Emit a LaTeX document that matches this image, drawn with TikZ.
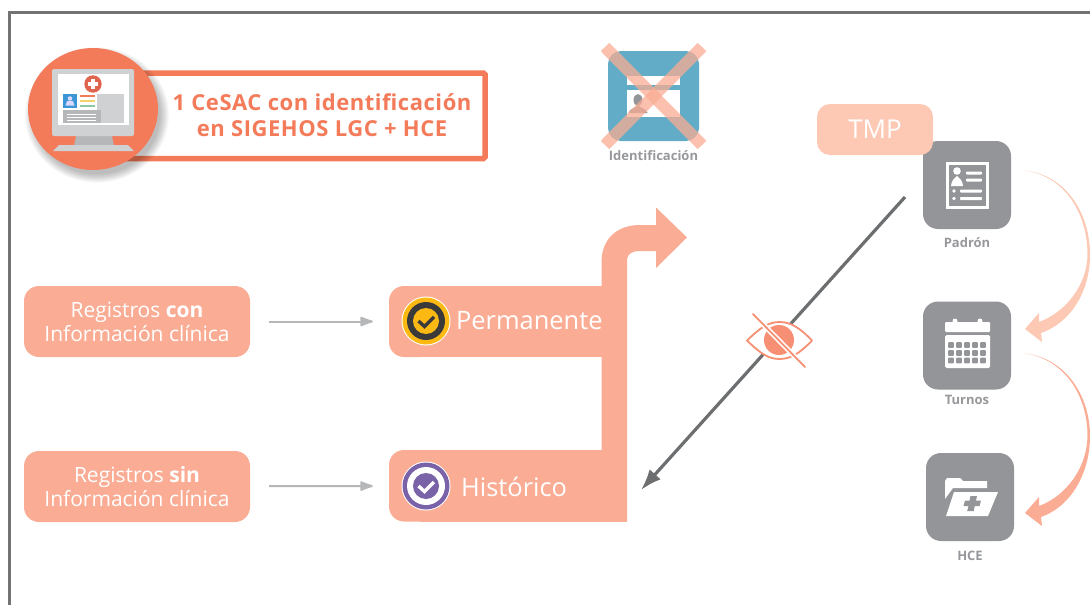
\documentclass[tikz,border=0pt]{standalone}
\usepackage{fontspec}
\setmainfont{Open Sans}
\newfontfamily\hdfont[LetterSpace=2.5]{Open Sans}
\usetikzlibrary{arrows.meta}
\definecolor{salmon}{HTML}{FAAD94}
\definecolor{coral}{HTML}{F47B5A}
\definecolor{tilegray}{HTML}{939598}
\definecolor{lblgray}{HTML}{97989B}
\definecolor{linegray}{HTML}{6D6E70}
\definecolor{arrowgray}{HTML}{B5B7B9}
\definecolor{paleorange}{HTML}{FDC8B4}
\definecolor{moncol}{HTML}{CFD1D3}
\definecolor{idblue}{HTML}{62ACC7}
\definecolor{badgeyellow}{HTML}{FDB913}
\definecolor{badgedark}{HTML}{3A3A3A}
\definecolor{badgeviolet}{HTML}{7A62A8}
\definecolor{userblue}{HTML}{3C96D6}
\definecolor{lineyellow}{HTML}{F3D36B}
\definecolor{linegreen}{HTML}{8CC9A1}
\definecolor{plusred}{HTML}{E0654F}
\tikzset{
  regbox/.style={fill=salmon,rounded corners=15pt,minimum width=226pt,minimum height=71pt,inner sep=0pt,align=center,text=white,font=\fontsize{21}{24}\selectfont},
  tile/.style={fill=tilegray,rounded corners=15pt,minimum width=88pt,minimum height=88pt,inner sep=0pt},
  tilelabel/.style={text=lblgray,font=\fontsize{13}{15}\selectfont\bfseries,inner sep=0pt},
  blocklabel/.style={text=white,font=\fontsize{25.4}{28}\selectfont,inner sep=0pt},
  thinarrow/.style={draw=arrowgray,line width=2pt,-{Latex[length=16pt,width=11pt,round=false]}},
}
\begin{document}
\begin{tikzpicture}[x=1pt,y=-1pt,line join=miter]
\useasboundingbox (0,0) rectangle (1090,605);
\fill[white] (0,0) rectangle (1090,605);
% frame
\draw[line width=2.6pt,draw=black!55] (9.5,605) -- (9.5,12.5) -- (1090,12.5);

% header box
\draw[coral,line width=5.5pt,rounded corners=1.5pt] (120,73) -- (485,73) -- (485,158.5) -- (120,158.5) -- cycle;
\foreach \r in {72,71,70,69,68,67,66,65,64,63}
  \fill[black,opacity=.028] (97,115) ellipse ({\r pt} and {\r*.94 pt});
\fill[coral] (93,109) ellipse (65pt and 61pt);
% monitor
\fill[arrowgray] (76,136) -- (112,136) -- (114,146) -- (74,146) -- cycle;
\fill[moncol] (53,151) -- (59,145) -- (128,145) -- (134,151) -- cycle;
\fill[moncol,rounded corners=2pt] (52,69) rectangle (134,136);
\fill[white] (58,74) rectangle (129,125);
\fill[plusred] (93,84) circle (8.7pt);
\fill[white] (90.8,79) rectangle (95.2,89);
\fill[white] (88,81.8) rectangle (98,86.2);
\fill[moncol] (97,94) rectangle (124,123);
\fill[userblue] (63,94) rectangle (77,108);
\fill[white!85!blue] (70,98.5) circle (2.3pt);
\fill[white!85!blue] (65.5,105.5) -- (67,101) -- (73,101) -- (74.5,105.5) -- cycle;
\fill[coral] (80,95) rectangle (95,96.5);
\fill[lineyellow] (80,100) rectangle (95,101.5);
\fill[linegreen] (80,105) rectangle (95,106.5);
\fill[arrowgray] (63,110) rectangle (101,123);
\foreach \y in {113.5,116.5,119.5} \fill[white] (67,\y) rectangle (96,\y+1);
\node[inner sep=0pt,align=center,text=coral,font=\fontsize{22}{26}\selectfont\hdfont\bfseries] (hdr) at (322,115) {1 CeSAC con identificación\\en SIGEHOS LGC + HCE};

% identificacion
\node[fill=idblue,rounded corners=13pt,minimum width=91pt,minimum height=90pt,inner sep=0pt] (idt) at (653.5,96) {};
\fill[white] (627,76) rectangle (680,85);
\fill[white] (627,90) rectangle (680,117);
\fill[tilegray] (638,100) ellipse (4.5pt and 6pt);
\fill[tilegray] (628.5,113) .. controls (630,108) and (635,109) .. (638,105) .. controls (641,109) and (646,108) .. (647.5,113) -- cycle;
\draw[salmon,opacity=.75,line width=12pt] (605,47) -- (702,145);
\draw[salmon,opacity=.75,line width=12pt] (702,47) -- (605,145);
\node[tilelabel,anchor=north] (idl) at (653.5,150) {Identificación};

% big block
\fill[salmon,rounded corners=15pt] (420,286) -- (389,286) -- (389,357) -- (420,357);
\fill[salmon] (420,286) rectangle (627,357);
\fill[salmon,rounded corners=15pt] (420,450) -- (389,450) -- (389,521.5) -- (420,521.5);
\fill[salmon] (420,450) rectangle (627,521.5);
\fill[salmon] (601.5,290) -- (601.5,262) .. controls (601.5,240) and (616,225) .. (640,225) -- (656,225) -- (656,207.5) -- (687,237.5) -- (656,268) -- (656,251) -- (640,251) .. controls (632,251) and (627,254) .. (627,260) -- (627,521) -- (601.5,521) -- cycle;
\node[minimum width=238pt,minimum height=71pt,inner sep=0pt] (perm) at (508,321.5) {};
\node[minimum width=238pt,minimum height=71pt,inner sep=0pt] (hist) at (508,486) {};
\node[blocklabel,anchor=west] (ptxt) at (456,320.5) {Permanente};
\node[blocklabel,anchor=west] (htxt) at (461,487) {Histórico};

% badges
\fill[white] (426,321) circle (24.5pt);
\fill[badgeyellow] (426,321) circle (23.5pt);
\fill[badgedark] (426,321) circle (19pt);
\fill[badgeyellow] (426,321) circle (13pt);
\draw[badgedark,line width=3.4pt] (418.5,321) -- (424.5,326.5) -- (434,317);
\fill[white] (426,486) circle (24.5pt);
\fill[badgeviolet] (426,486) circle (23.5pt);
\fill[white] (426,486) circle (19pt);
\fill[badgeviolet] (426,486) circle (13pt);
\draw[white,line width=3.4pt] (418.5,486) -- (424.5,491.5) -- (434,482);

% registros
\node[regbox] (rcon) at (137,321.5) {Registros \textbf{con}\\Información clínica};
\node[regbox] (rsin) at (137,486.5) {Registros \textbf{sin}\\Información clínica};
\draw[thinarrow,shorten <=19pt,shorten >=16pt] (rcon) -- (perm.west);
\draw[thinarrow,shorten <=19pt,shorten >=16pt] (rsin) -- (hist.west);

% tiles
\node[tile] (pad) at (967,185) {};
\node[tile] (tur) at (967,345.5) {};
\node[tile] (hce) at (970,497) {};
\node[fill=paleorange,rounded corners=13pt,minimum width=116pt,minimum height=51pt,inner sep=0pt,text=white,font=\fontsize{26}{28}\selectfont] (tmp) at (875,129.5) {TMP};
\node[tilelabel] (padl) at (967,243) {Padrón};
\node[tilelabel] (turl) at (967,400) {Turnos};
\node[tilelabel] (hcel) at (970,556) {HCE};

% padron icon
\fill[white] (946,162) rectangle (989,209);
\fill[tilegray] (949,165) rectangle (986,206);
\fill[white] (957,171) circle (3.8pt);
\fill[white] (951,186) .. controls (952,179) and (955,178) .. (957,176) .. controls (959,178) and (962,179) .. (963,186) -- cycle;
\foreach \y in {173,180} \fill[white,rounded corners=.8pt] (966,\y-1.5) rectangle (982,\y+1.5);
\foreach \y in {191,198.5} {\fill[white] (954,\y) circle (1.8pt); \fill[white,rounded corners=.8pt] (960,\y-1.5) rectangle (982,\y+1.5);}

% calendar icon
\fill[white,rounded corners=1pt] (945,322) rectangle (990,332);
\fill[white] (955,321) circle (2.5pt);
\fill[white] (980,321) circle (2.5pt);
\fill[white,rounded corners=1.5pt] (945,335) rectangle (990,368);
\foreach \x in {951,959,967,975,983} \foreach \y in {345,353,360.5}
  \fill[tilegray,rounded corners=.8pt] (\x-2.8,\y-2.8) rectangle (\x+2.8,\y+2.8);

% folder icon
\fill[white] (945,499) -- (945,481) -- (947,478) -- (960,478) -- (963,481) -- (987,481) -- (987,488) -- (953,488) -- cycle;
\fill[white] (946,516) -- (988,516) -- (998,492) -- (954,492) -- cycle;
\fill[tilegray] (970.5,496) -- (977,496) -- (976,500.5) -- (981,500.5) -- (979.5,506) -- (974.7,506) -- (973.7,511) -- (967.2,511) -- (968.5,506) -- (963.5,506) -- (965,500.5) -- (969.5,500.5) -- cycle;

% curved arrows
\coordinate (a1s) at (1025,170.5);
\coordinate (a1t) at (1025,329);
\coordinate (a2s) at (1025,353.5);
\coordinate (a2t) at (1025,513);
\fill[paleorange] (a1s) .. controls (1065,175) and (1090,212) .. (1090,255) .. controls (1090,290) and (1072,322) .. (1041,333) -- (1042,342) -- (a1t) -- (1039,313) -- (1039,322) .. controls (1066,312) and (1087,285) .. (1087.5,255) .. controls (1087.5,212) and (1064,176) .. (a1s) -- cycle;
\fill[salmon] (a2s) .. controls (1065,358) and (1090,395) .. (1090,436) .. controls (1090,472) and (1072,506) .. (1041,517) -- (1042,526) -- (a2t) -- (1039,497) -- (1039,506) .. controls (1066,496) and (1087,468) .. (1087.5,436) .. controls (1087.5,395) and (1064,359) .. (a2s) -- cycle;

% gray diagonal
\coordinate (dstart) at (905,197);
\coordinate (dend) at (641,490);
\draw[linegray,line width=3.2pt,-{Latex[length=21pt,width=15pt]}] (dstart) -- (dend);

% eye
\fill[white] (747,340.5) .. controls (760,328) and (768,322) .. (779.5,322) .. controls (791,322) and (800,328) .. (812,340.5) .. controls (800,353) and (791,359) .. (779.5,359) .. controls (768,359) and (760,353) .. (747,340.5) -- cycle;
\draw[coral!85!white,line width=1.8pt,line join=round] (747,340.5) .. controls (760,328) and (768,322) .. (779.5,322) .. controls (791,322) and (800,328) .. (812,340.5) .. controls (800,353) and (791,359) .. (779.5,359) .. controls (768,359) and (760,353) .. (747,340.5) -- cycle;
\fill[coral!85!white] (779,340) circle (15pt);
\draw[white,line width=5pt] (753,314) -- (805,367);
\draw[coral!85!white,line width=1.8pt,line cap=round] (753,314) -- (805,367);
\end{tikzpicture}
\end{document}
